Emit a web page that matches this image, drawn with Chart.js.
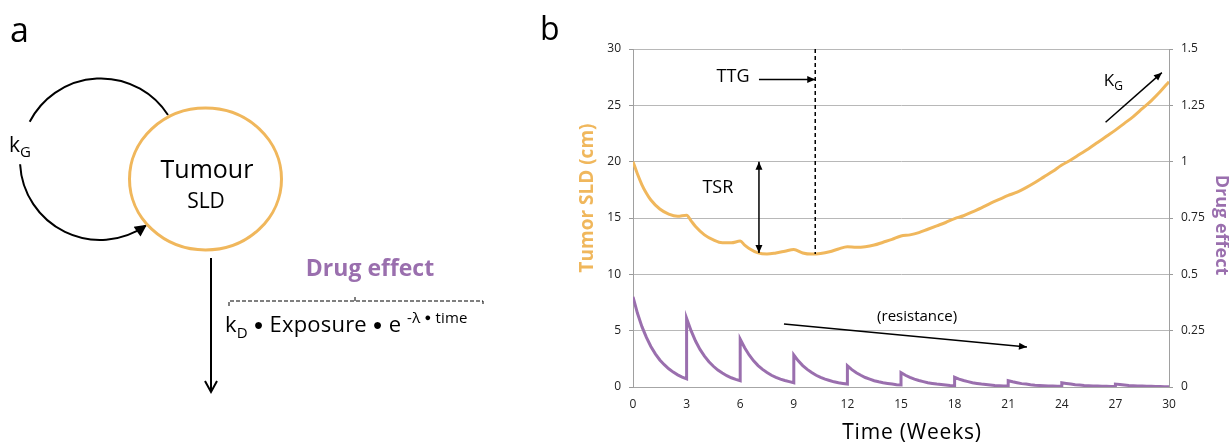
<!DOCTYPE html>
<html>
<head>
<meta charset="utf-8">
<script src="https://cdn.jsdelivr.net/npm/chart.js@4.4.0/dist/chart.umd.min.js"></script>
<style>
  html, body { margin:0; padding:0; background:#fff; }
  #wrap { position:relative; width:1229px; height:445px; overflow:hidden; }
  #chart { position:absolute; left:0; top:0; }
  #diagram { position:absolute; left:0; top:0; font-family:"Open Sans", sans-serif; }
</style>
</head>
<body>
<div id="wrap">
  <canvas id="chart" width="1229" height="445"></canvas>

  <!-- panel a : model diagram -->
  <svg id="diagram" width="540" height="445">
    <defs>
      <marker id="ah" viewBox="0 0 10 10" refX="9" refY="5" markerUnits="userSpaceOnUse"
              markerWidth="13" markerHeight="12" orient="auto">
        <path d="M0,0 L10,5 L0,10 z" fill="#000"/>
      </marker>
    </defs>
    <text x="10" y="42" font-size="34">a</text>

    <path d="M168,115 A80,80 0 0 0 29.7,121.8" fill="none" stroke="#000" stroke-width="2"/>
    <path d="M20.1,164.2 A80,80 0 0 0 145.9,225.5" fill="none" stroke="#000" stroke-width="2" marker-end="url(#ah)"/>
    <text x="9" y="152" font-size="21">k<tspan font-size="15" dy="5">G</tspan></text>

    <ellipse cx="205.5" cy="179" rx="76" ry="71" fill="none" stroke="#F0B75C" stroke-width="3"/>
    <text x="207" y="178" text-anchor="middle" font-size="25">Tumour</text>
    <text x="206" y="208" text-anchor="middle" font-size="21">SLD</text>

    <line x1="211" y1="258" x2="211" y2="391" stroke="#000" stroke-width="2"/>
    <polyline points="205,381 211,392 217,381" fill="none" stroke="#000" stroke-width="2"/>

    <text x="370" y="276" text-anchor="middle" font-size="23" font-weight="700" fill="#9A6FAE">Drug effect</text>
    <path d="M229,306 V301 H483 V306 M355,301 V297" fill="none" stroke="#000" stroke-width="1" stroke-dasharray="4,2"/>
    <text x="225" y="332" font-size="22" letter-spacing="0.2">k<tspan font-size="15" dy="6">D</tspan><tspan dy="-6"> </tspan><tspan font-size="16" dy="-2.5">●</tspan><tspan dy="2.5"> Exposure </tspan><tspan font-size="16" dy="-2.5">●</tspan><tspan dy="2.5"> e </tspan><tspan font-size="15" dy="-9">-λ </tspan><tspan font-size="11" dy="-2">●</tspan><tspan font-size="15" dy="2"> time</tspan></text>
  </svg>
</div>

<script>
// ── Data ────────────────────────────────────────────────
const weekTicks = [0, 3, 6, 9, 12, 15, 18, 21, 24, 27, 30];

// tumour SLD (cm), left axis
const tumorWeeks = [0, 0.25, 0.5, 0.75, 1, 1.5, 2, 2.5, 3, 3.25, 3.5, 4, 4.5, 5, 5.5, 6, 6.25, 6.5,
  7, 7.5, 8, 8.5, 9, 9.5, 10, 10.5, 11, 11.5, 12, 12.5, 13, 13.5, 14, 14.5, 15, 15.5, 16, 16.5,
  17, 17.5, 18, 18.5, 19, 19.5, 20, 20.5, 21, 21.5, 22, 22.5, 23, 23.5, 24, 24.5, 25, 25.5,
  26, 26.5, 27, 27.5, 28, 28.5, 29, 29.5, 30];
const tumorSLD = [20.0, 18.9, 17.95, 17.2, 16.6, 15.8, 15.35, 15.15, 15.25, 14.75, 14.25, 13.5, 13.05, 12.8, 12.8, 12.95, 12.6, 12.3,
  11.9, 11.8, 11.9, 12.05, 12.2, 11.9, 11.8, 11.85, 12.0, 12.25, 12.45, 12.4, 12.45, 12.6, 12.85, 13.1, 13.4, 13.5, 13.7, 14.0,
  14.3, 14.6, 14.95, 15.2, 15.55, 15.9, 16.3, 16.65, 17.0, 17.3, 17.7, 18.15, 18.65, 19.15, 19.7, 20.15, 20.65, 21.15,
  21.7, 22.25, 22.8, 23.4, 24.0, 24.7, 25.4, 26.2, 27.1];

// drug effect, right axis: one 3-week cycle per dose
const doseWeeks    = [0, 3, 6, 9, 12, 15, 18, 21, 24, 27];
const cycleOffsets = [0, 0.25, 0.5, 0.75, 1, 1.25, 1.5, 1.75, 2, 2.25, 2.5, 2.75, 3];
const drugCycles = [
  [0.400, 0.327, 0.268, 0.220, 0.180, 0.147, 0.120, 0.099, 0.081, 0.066, 0.054, 0.044, 0.036],
  [0.305, 0.250, 0.204, 0.167, 0.137, 0.112, 0.092, 0.075, 0.062, 0.050, 0.041, 0.034, 0.028],
  [0.212, 0.174, 0.142, 0.116, 0.095, 0.078, 0.064, 0.052, 0.043, 0.035, 0.029, 0.024, 0.019],
  [0.142, 0.116, 0.095, 0.078, 0.064, 0.052, 0.043, 0.035, 0.029, 0.023, 0.019, 0.016, 0.013],
  [0.094, 0.077, 0.063, 0.052, 0.042, 0.035, 0.028, 0.023, 0.019, 0.016, 0.013, 0.010, 0.009],
  [0.064, 0.052, 0.043, 0.035, 0.029, 0.024, 0.019, 0.016, 0.013, 0.011, 0.009, 0.007, 0.006],
  [0.043, 0.035, 0.029, 0.024, 0.019, 0.016, 0.013, 0.011, 0.009, 0.007, 0.006, 0.005, 0.004],
  [0.028, 0.023, 0.019, 0.015, 0.013, 0.010, 0.008, 0.007, 0.006, 0.005, 0.004, 0.003, 0.003],
  [0.019, 0.016, 0.013, 0.010, 0.009, 0.007, 0.006, 0.005, 0.004, 0.003, 0.003, 0.002, 0.002],
  [0.013, 0.011, 0.009, 0.007, 0.006, 0.005, 0.004, 0.003, 0.003, 0.002, 0.002, 0.001, 0.001]
];

// annotations, in data units (week, tumour cm)
const ttgLine     = [[10.2, 30], [10.2, 11.8]];
const ttgArrow    = [[7.05, 27.3], [10.2, 27.3]];
const tsrArrow    = [[7.05, 20], [7.05, 11.9]];
const kgArrow     = [[26.45, 23.5], [29.6, 27.9]];
const resistArrow = [[8.45, 5.6], [22.05, 3.55]];

const ORANGE = "#F0B75C", PURPLE = "#9A6FAE";
const FONT = '"Open Sans", sans-serif';

const tumorPoints = tumorWeeks.map((w, i) => ({ x: w, y: tumorSLD[i] }));
const drugPoints  = [];
doseWeeks.forEach((d, c) => cycleOffsets.forEach((o, j) => drugPoints.push({ x: d + o, y: drugCycles[c][j] })));

// ── Helpers ─────────────────────────────────────────────
function arrowHead(ctx, x1, y1, x2, y2, len, wid) {
  const a = Math.atan2(y2 - y1, x2 - x1);
  ctx.beginPath();
  ctx.moveTo(x2, y2);
  ctx.lineTo(x2 - len*Math.cos(a) + wid*Math.sin(a), y2 - len*Math.sin(a) - wid*Math.cos(a));
  ctx.lineTo(x2 - len*Math.cos(a) - wid*Math.sin(a), y2 - len*Math.sin(a) + wid*Math.cos(a));
  ctx.closePath();
  ctx.fill();
}
function arrow(ctx, p, q, both) {
  ctx.beginPath(); ctx.moveTo(p[0], p[1]); ctx.lineTo(q[0], q[1]); ctx.stroke();
  arrowHead(ctx, p[0], p[1], q[0], q[1], 8, 3.5);
  if (both) arrowHead(ctx, q[0], q[1], p[0], p[1], 8, 3.5);
}

// ── Annotations + free-standing titles ─────────────────
const panelB = {
  id: "panelB",
  afterDatasetsDraw(chart) {
    const { ctx, chartArea: a, scales: { x, y } } = chart;
    const P = ([w, v]) => [x.getPixelForValue(w), y.getPixelForValue(v)];
    ctx.save();
    ctx.strokeStyle = "#000"; ctx.fillStyle = "#000"; ctx.lineWidth = 1.5;

    // TTG dashed line
    const l0 = P(ttgLine[0]), l1 = P(ttgLine[1]);
    ctx.setLineDash([4, 3]);
    ctx.beginPath(); ctx.moveTo(l0[0], l0[1]); ctx.lineTo(l1[0], l1[1]); ctx.stroke();
    ctx.setLineDash([]);

    arrow(ctx, P(ttgArrow[0]), P(ttgArrow[1]));
    arrow(ctx, P(tsrArrow[0]), P(tsrArrow[1]), true);
    arrow(ctx, P(kgArrow[0]), P(kgArrow[1]));
    arrow(ctx, P(resistArrow[0]), P(resistArrow[1]));

    ctx.textBaseline = "middle"; ctx.textAlign = "center";
    ctx.font = "18px " + FONT;
    const t = P([5.6, 27.5]);   ctx.fillText("TTG", t[0], t[1]);
    const s = P([4.75, 17.65]); ctx.fillText("TSR", s[0], s[1]);
    ctx.font = "15px " + FONT;
    const r = P([15.9, 6.2]);   ctx.fillText("(resistance)", r[0], r[1]);
    ctx.textAlign = "left"; ctx.textBaseline = "alphabetic";
    const k = P([26.35, 26.7]);
    ctx.font = "17px " + FONT; ctx.fillText("K", k[0], k[1]);
    const kw = ctx.measureText("K").width;
    ctx.font = "12px " + FONT; ctx.fillText("G", k[0] + kw, k[1] + 4);

    // axis titles (placed off-centre as in the source figure)
    ctx.textAlign = "center"; ctx.textBaseline = "middle";
    ctx.font = "bold 19px " + FONT;
    ctx.fillStyle = ORANGE;
    ctx.save(); ctx.translate(a.left - 45, 198); ctx.rotate(-Math.PI/2); ctx.fillText("Tumor SLD (cm)", 0, 0); ctx.restore();
    ctx.font = "bold 18px " + FONT;
    ctx.fillStyle = PURPLE;
    ctx.save(); ctx.translate(a.right + 52, 225); ctx.rotate(Math.PI/2); ctx.fillText("Drug effect", 0, 0); ctx.restore();
    ctx.fillStyle = "#000";
    ctx.font = "500 21px " + FONT;
    ctx.letterSpacing = "0.8px";
    ctx.fillText("Time (Weeks)", 912, 433);
    ctx.letterSpacing = "0px";
    ctx.font = "32px " + FONT; ctx.textAlign = "left"; ctx.textBaseline = "alphabetic";
    ctx.fillText("b", 540, 40);
    ctx.restore();
  }
};

// ── Chart ───────────────────────────────────────────────
new Chart(document.getElementById("chart").getContext("2d"), {
  type: "line",
  data: {
    datasets: [
      { label: "Tumor SLD", data: tumorPoints, yAxisID: "y", borderColor: ORANGE, borderWidth: 3,
        pointRadius: 0, cubicInterpolationMode: "monotone", fill: false },
      { label: "Drug effect", data: drugPoints, yAxisID: "y1", borderColor: PURPLE, borderWidth: 3,
        pointRadius: 0, tension: 0, fill: false }
    ]
  },
  options: {
    responsive: false, animation: false, devicePixelRatio: 1,
    layout: { padding: { left: 588, right: 0, top: 49, bottom: 0 } },
    plugins: { legend: { display: false }, tooltip: { enabled: false } },
    scales: {
      x: {
        type: "linear", min: 0, max: 30,
        afterBuildTicks: s => { s.ticks = weekTicks.map(v => ({ value: v })); },
        afterFit: s => { s.height = 58; },
        grid: { display: false, drawTicks: false },
        border: { display: true, color: "#a6a6a6" },
        ticks: { padding: 10, color: "#222", font: { family: FONT, size: 12 } }
      },
      y: {
        position: "left", min: 0, max: 30,
        afterFit: s => { s.width = 45; },
        grid: { color: "#b8b8b8", tickColor: "#999", tickLength: 4 },
        border: { color: "#a0a0a0" },
        ticks: { stepSize: 5, padding: 8, color: "#222", font: { family: FONT, size: 12 } }
      },
      y1: {
        position: "right", min: 0, max: 1.5,
        afterFit: s => { s.width = 60; },
        grid: { drawOnChartArea: false, tickColor: "#999", tickLength: 4 },
        border: { color: "#a0a0a0" },
        ticks: { stepSize: 0.25, padding: 8, color: "#222", font: { family: FONT, size: 12 },
                 callback: v => String(v) }
      }
    }
  },
  plugins: [panelB]
});
</script>
</body>
</html>
